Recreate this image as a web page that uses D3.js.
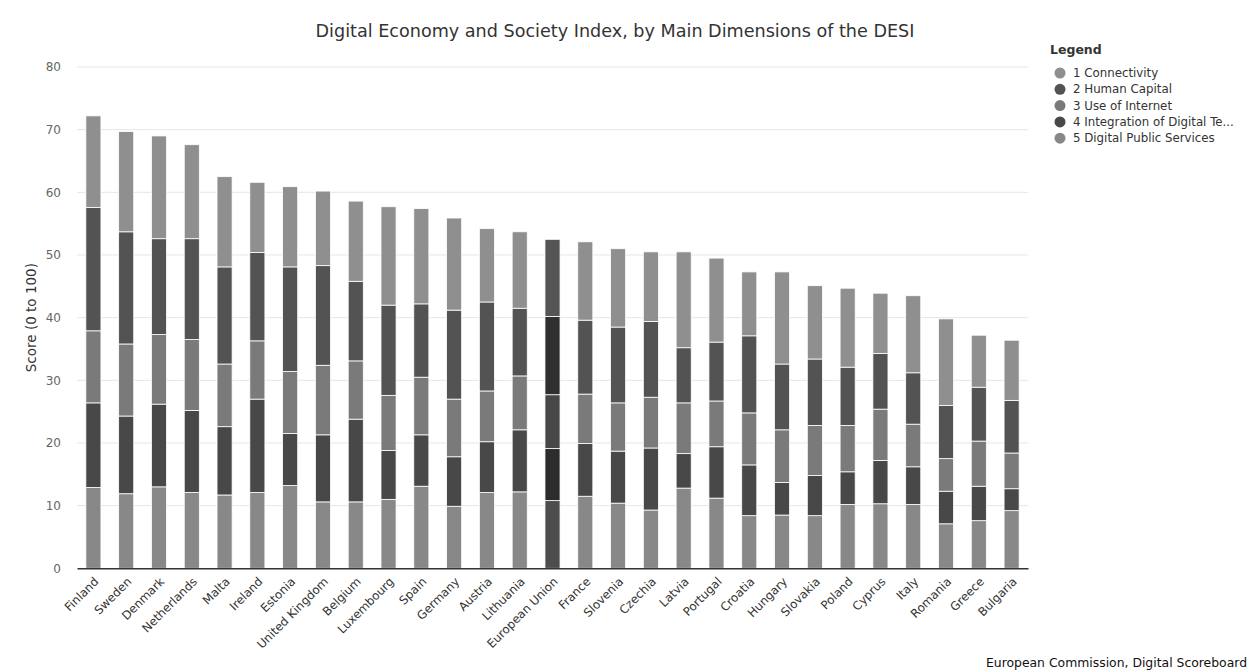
<!DOCTYPE html>
<html>
<head>
<meta charset="utf-8">
<script src="https://cdn.jsdelivr.net/npm/d3@7"></script>
<style>
  body { margin: 0; background: #fff; }
  svg text { font-family: "DejaVu Sans", sans-serif; }
</style>
</head>
<body>
<svg id="chart"></svg>
<script>
const countries = ["Finland", "Sweden", "Denmark", "Netherlands", "Malta", "Ireland", "Estonia",
  "United Kingdom", "Belgium", "Luxembourg", "Spain", "Germany", "Austria", "Lithuania",
  "European Union", "France", "Slovenia", "Czechia", "Latvia", "Portugal", "Croatia", "Hungary",
  "Slovakia", "Poland", "Cyprus", "Italy", "Romania", "Greece", "Bulgaria"];

const seriesNames = ["1 Connectivity", "2 Human Capital", "3 Use of Internet",
  "4 Integration of Digital Technology", "5 Digital Public Services"];

const connectivity = [14.6, 16.0, 16.4, 15.0, 14.4, 11.2, 12.8, 11.9, 12.8, 15.7, 15.2, 14.7, 11.7, 12.2,
  12.3, 12.5, 12.5, 11.1, 15.3, 13.4, 10.2, 14.7, 11.7, 12.6, 9.6, 12.3, 13.8, 8.3, 9.6];
const humanCapital = [19.7, 17.9, 15.3, 16.1, 15.5, 14.1, 16.7, 15.9, 12.7, 14.4, 11.7, 14.2, 14.2, 10.8,
  12.5, 11.8, 12.1, 12.1, 8.8, 9.4, 12.3, 10.5, 10.6, 9.3, 8.9, 8.2, 8.5, 8.6, 8.4];
const useOfInternet = [11.5, 11.5, 11.1, 11.3, 10.0, 9.3, 9.9, 11.1, 9.3, 8.8, 9.2, 9.2, 8.1, 8.6,
  8.6, 7.9, 7.7, 8.1, 8.1, 7.3, 8.3, 8.4, 8.0, 7.4, 8.2, 6.8, 5.2, 7.2, 5.7];
const integration = [13.5, 12.4, 13.2, 13.1, 10.9, 14.9, 8.3, 10.7, 13.2, 7.8, 8.2, 7.9, 8.1, 9.9,
  8.3, 8.4, 8.3, 9.9, 5.5, 8.2, 8.1, 5.2, 6.4, 5.2, 6.9, 6.0, 5.2, 5.5, 3.5];
const publicServices = [12.9, 11.9, 13.0, 12.1, 11.7, 12.1, 13.2, 10.6, 10.6, 11.0, 13.1, 9.9, 12.1, 12.2,
  10.8, 11.5, 10.4, 9.3, 12.8, 11.2, 8.4, 8.5, 8.4, 10.2, 10.3, 10.2, 7.1, 7.6, 9.2];

const yTicks = [0, 10, 20, 30, 40, 50, 60, 70, 80];

const colors = ["#8f8f8f", "#535353", "#7a7a7a", "#484848", "#888888"];
const euColors = ["#555555", "#303030", "#474747", "#2c2c2c", "#4d4d4d"];

const width = 1250, height = 671;
const svg = d3.select("#chart").attr("width", width).attr("height", height);

const x = d3.scaleBand().domain(countries).range([77, 1028]).paddingInner(0.54).paddingOuter(0.27);
const y = d3.scaleLinear().domain([0, 80]).range([568.3, 67]);

// rows for stacking, bottom series first
const keys = ["dps", "idt", "ui", "hc", "c"];
const rows = countries.map((name, i) => ({
  name: name, c: connectivity[i], hc: humanCapital[i], ui: useOfInternet[i],
  idt: integration[i], dps: publicServices[i]
}));
const stacked = d3.stack().keys(keys)(rows);
const keyIndex = { c: 0, hc: 1, ui: 2, idt: 3, dps: 4 };

// grid
svg.append("g")
  .selectAll("line")
  .data(yTicks.filter(d => d > 0))
  .join("line")
  .attr("x1", 77).attr("x2", 1028)
  .attr("y1", d => y(d)).attr("y2", d => y(d))
  .attr("stroke", "#e6e6e6").attr("stroke-width", 1);

// y axis labels
const yAxis = svg.append("g")
  .attr("transform", "translate(77,0)")
  .call(d3.axisLeft(y).tickValues(yTicks).tickSize(0).tickPadding(16));
yAxis.select(".domain").remove();
yAxis.selectAll("text").attr("fill", "#666").attr("font-size", 12).style("font-family", "DejaVu Sans, sans-serif");

svg.append("text")
  .attr("transform", "translate(36," + y(40) + ") rotate(-90)")
  .attr("text-anchor", "middle")
  .attr("font-size", 13.5)
  .attr("fill", "#333")
  .text("Score (0 to 100)");

// bars
svg.append("g")
  .selectAll("g")
  .data(stacked)
  .join("g")
  .selectAll("rect")
  .data(s => s.map(d => ({ key: s.key, d: d })))
  .join("rect")
  .attr("x", p => x(p.d.data.name))
  .attr("width", x.bandwidth())
  .attr("y", p => y(p.d[1]))
  .attr("height", p => y(p.d[0]) - y(p.d[1]))
  .attr("fill", p => p.d.data.name === "European Union" ? euColors[keyIndex[p.key]] : colors[keyIndex[p.key]])
  .attr("stroke", "#fff")
  .attr("stroke-width", 0.8);

// x axis
const xAxis = svg.append("g")
  .attr("transform", "translate(0," + y(0) + ")")
  .call(d3.axisBottom(x).tickSize(0).tickPadding(0));
xAxis.select(".domain").attr("stroke", "#333").attr("stroke-width", 1.5);
xAxis.selectAll("text")
  .attr("fill", "#333")
  .attr("font-size", 11.8)
  .style("font-family", "DejaVu Sans, sans-serif")
  .attr("text-anchor", "end")
  .attr("dy", null)
  .attr("transform", "translate(6,14) rotate(-45)");

// title
svg.append("text")
  .attr("x", 615).attr("y", 37)
  .attr("text-anchor", "middle")
  .attr("font-size", 17.6)
  .attr("fill", "#333")
  .text("Digital Economy and Society Index, by Main Dimensions of the DESI");

// legend
const legend = svg.append("g").attr("transform", "translate(1047,0)");
legend.append("text")
  .attr("x", 3).attr("y", 54)
  .attr("font-size", 12.5).attr("font-weight", "bold").attr("fill", "#333")
  .text("Legend");
const items = legend.selectAll("g.item")
  .data(seriesNames)
  .join("g")
  .attr("class", "item")
  .attr("transform", (d, i) => "translate(0," + (73 + i * 16.3) + ")");
items.append("circle").attr("cx", 13).attr("cy", 0).attr("r", 5.5)
  .attr("fill", (d, i) => colors[i]);
items.append("text")
  .attr("x", 26).attr("y", 4)
  .attr("font-size", 11.8).attr("fill", "#333")
  .text(d => d.length > 28 ? d.slice(0, 27) + "..." : d);

// credit
svg.append("text")
  .attr("x", 1247).attr("y", 667)
  .attr("text-anchor", "end")
  .attr("font-size", 12.4).attr("fill", "#111")
  .text("European Commission, Digital Scoreboard");
</script>
</body>
</html>
